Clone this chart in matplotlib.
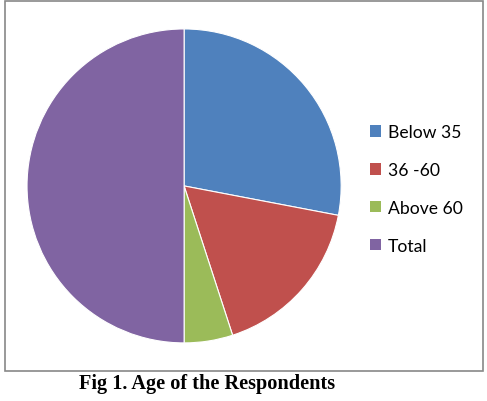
import matplotlib.pyplot as plt
from matplotlib.patches import Rectangle

# age groups of the respondents
labels = ['Below 35', '36 -60', 'Above 60', 'Total']
counts = [56, 34, 10, 100]
colors = ['#4F81BD', '#C0504D', '#9BBB59', '#8064A2']

fig = plt.figure(figsize=(4.87, 4.02), dpi=100)

# chart frame
fig.patches.append(Rectangle((5/487, 1 - 372/402), 478/487, 370/402,
                             transform=fig.transFigure, fill=False,
                             edgecolor='#888888', linewidth=1.2))

ax = fig.add_axes([0.0555, 0.1445, 0.645, 0.781])
wedges, _ = ax.pie(counts, colors=colors, startangle=90, counterclock=False,
                   wedgeprops=dict(edgecolor='white', linewidth=0.8))
ax.set_aspect('auto')
ax.set_xlim(-1, 1)
ax.set_ylim(-1, 1)
ax.axis('off')

leg = fig.legend(wedges, labels, loc='center left',
                 bbox_to_anchor=(0.727, 0.528), frameon=False,
                 prop={'family': 'Lato', 'size': 12.6},
                 handlelength=0.65, handleheight=0.65, handletextpad=0.4,
                 labelspacing=1.25)
for h in leg.legend_handles:
    h.set_edgecolor('none')

fig.text(207/487, 1 - 384/402, 'Fig 1. Age of the Respondents',
         ha='center', va='center', fontsize=14.6, fontweight='bold',
         family='Liberation Serif')

fig.savefig('out.png', dpi=100)
